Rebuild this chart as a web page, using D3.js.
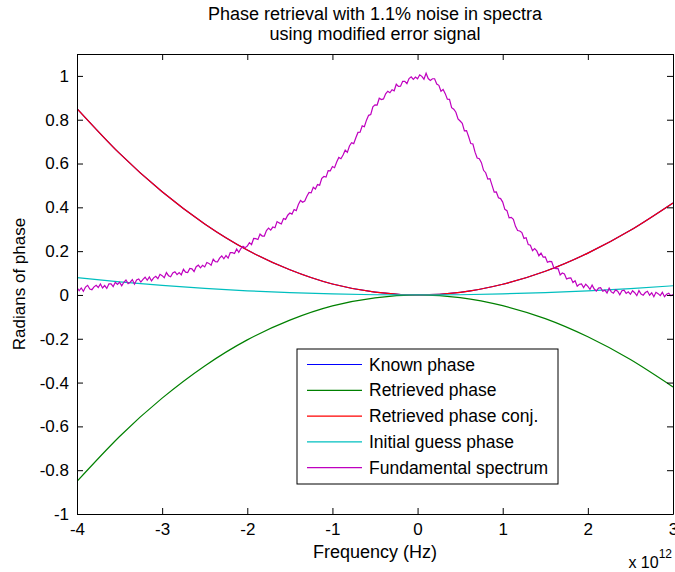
<!DOCTYPE html>
<html>
<head>
<meta charset="utf-8">
<script src="https://cdn.jsdelivr.net/npm/d3@7"></script>
<style>
  body { margin: 0; background: #fff; }
  svg text { font-family: Arial, "Liberation Sans", sans-serif; fill: #000; }
  .axis path, .axis line { stroke: #000; }
  .line { fill: none; stroke-width: 1.2; }
</style>
</head>
<body>
<div id="chart"></div>
<script>
// frequency in units of 1e12 Hz
const phaseFreq = [-4, -3.5, -3, -2.5, -2, -1.5, -1, -0.5, 0, 0.5, 1, 1.5, 2, 2.5, 3];
const knownPhase = [0.851, 0.646, 0.471, 0.324, 0.205, 0.115, 0.050, 0.013, 0, 0.012, 0.049, 0.108, 0.191, 0.295, 0.420];
const retrievedPhase = [-0.851, -0.646, -0.471, -0.324, -0.205, -0.115, -0.050, -0.013, 0, -0.012, -0.049, -0.108, -0.191, -0.295, -0.420];
const retrievedPhaseConj = [0.851, 0.646, 0.471, 0.324, 0.205, 0.115, 0.050, 0.013, 0, 0.012, 0.049, 0.108, 0.191, 0.295, 0.420];
const initialGuess = [0.079, 0.060, 0.044, 0.030, 0.019, 0.011, 0.005, 0.001, 0, 0.001, 0.005, 0.011, 0.019, 0.029, 0.042];

// fundamental spectrum, sampled every 0.025e12 Hz from -4e12
const spectrumStart = -4;
const spectrumStep = 0.025;
const spectrum = [
  0.034, 0.019, 0.032, 0.017, 0.036, 0.044, 0.027, 0.024, 0.037, 0.044,
  0.034, 0.050, 0.032, 0.043, 0.030, 0.051, 0.051, 0.038, 0.058, 0.048,
  0.058, 0.042, 0.058, 0.068, 0.052, 0.058, 0.070, 0.049, 0.068, 0.073,
  0.059, 0.071, 0.081, 0.067, 0.082, 0.064, 0.078, 0.085, 0.074, 0.094,
  0.088, 0.079, 0.102, 0.088, 0.083, 0.100, 0.106, 0.093, 0.102, 0.092,
  0.117, 0.104, 0.102, 0.121, 0.119, 0.107, 0.129, 0.136, 0.124, 0.135,
  0.128, 0.148, 0.144, 0.136, 0.163, 0.152, 0.151, 0.168, 0.178, 0.165,
  0.180, 0.168, 0.193, 0.193, 0.189, 0.210, 0.195, 0.212, 0.222, 0.216,
  0.223, 0.239, 0.230, 0.258, 0.257, 0.253, 0.278, 0.269, 0.269, 0.294,
  0.305, 0.296, 0.310, 0.307, 0.335, 0.329, 0.324, 0.349, 0.345, 0.364,
  0.374, 0.369, 0.390, 0.385, 0.413, 0.431, 0.423, 0.429, 0.451, 0.468,
  0.466, 0.492, 0.484, 0.504, 0.501, 0.532, 0.541, 0.538, 0.568, 0.567,
  0.586, 0.581, 0.607, 0.628, 0.622, 0.639, 0.661, 0.651, 0.680, 0.695,
  0.691, 0.718, 0.742, 0.743, 0.772, 0.768, 0.798, 0.820, 0.824, 0.859,
  0.868, 0.867, 0.898, 0.892, 0.895, 0.918, 0.930, 0.923, 0.937, 0.932,
  0.962, 0.952, 0.953, 0.975, 0.975, 0.965, 0.988, 0.996, 0.984, 0.995,
  0.987, 1.005, 0.998, 0.985, 1.012, 0.988, 0.979, 0.987, 0.987, 0.963,
  0.957, 0.930, 0.938, 0.919, 0.894, 0.893, 0.855, 0.848, 0.834, 0.804,
  0.794, 0.784, 0.749, 0.750, 0.722, 0.691, 0.689, 0.652, 0.625, 0.622,
  0.604, 0.569, 0.558, 0.529, 0.531, 0.500, 0.469, 0.470, 0.444, 0.440,
  0.424, 0.391, 0.385, 0.352, 0.354, 0.345, 0.313, 0.294, 0.292, 0.285,
  0.258, 0.261, 0.230, 0.227, 0.202, 0.212, 0.201, 0.179, 0.191, 0.173,
  0.174, 0.149, 0.153, 0.152, 0.124, 0.120, 0.121, 0.091, 0.100, 0.096,
  0.073, 0.077, 0.078, 0.057, 0.065, 0.040, 0.049, 0.050, 0.034, 0.049,
  0.039, 0.026, 0.045, 0.027, 0.018, 0.031, 0.033, 0.017, 0.022, 0.009,
  0.031, 0.014, 0.008, 0.023, 0.017, 0.001, 0.019, 0.022, 0.007, 0.014,
  0.003, 0.019, 0.010, -0.003, 0.020, 0.004, -0.001, 0.011, 0.017, -0.001,
  0.010, -0.008, 0.012, 0.006, -0.003, 0.012, -0.008, 0.003, 0.008, -0.004,
  0.002
];

const xTicks = [-4, -3, -2, -1, 0, 1, 2, 3];
const yTicks = [-1, -0.8, -0.6, -0.4, -0.2, 0, 0.2, 0.4, 0.6, 0.8, 1];
const legendLabels = ['Known phase', 'Retrieved phase', 'Retrieved phase conj.', 'Initial guess phase', 'Fundamental spectrum'];
const seriesColors = ['#0000ff', '#008000', '#ff0000', '#00bfbf', '#bf00bf'];

const width = 675, height = 572;
const margin = { top: 54, right: 2, bottom: 58, left: 77 };
const w = width - margin.left - margin.right;
const h = height - margin.top - margin.bottom;
const fontSize = 18;

const svg = d3.select('#chart').append('svg')
  .attr('width', width)
  .attr('height', height);

const g = svg.append('g')
  .attr('transform', `translate(${margin.left},${margin.top})`);

const x = d3.scaleLinear().domain([-4, 3]).range([0, w]);
const y = d3.scaleLinear().domain([-1, 1.1]).range([h, 0]);

// series: phases on a coarse grid, spectrum on the fine grid
const phaseSeries = [knownPhase, retrievedPhase, retrievedPhaseConj, initialGuess].map(vals =>
  vals.map((v, i) => [phaseFreq[i], v]));
const spectrumSeries = spectrum.map((v, i) => [spectrumStart + i * spectrumStep, v]);

const smooth = d3.line()
  .x(d => x(d[0]))
  .y(d => y(d[1]))
  .curve(d3.curveNatural);

const jagged = d3.line()
  .x(d => x(d[0]))
  .y(d => y(d[1]));

g.append('defs').append('clipPath').attr('id', 'clip')
  .append('rect').attr('width', w).attr('height', h);

const plot = g.append('g').attr('clip-path', 'url(#clip)');

phaseSeries.forEach((s, i) => {
  plot.append('path')
    .attr('class', 'line')
    .attr('stroke', seriesColors[i])
    .attr('d', smooth(s));
});

plot.append('path')
  .attr('class', 'line')
  .attr('stroke', seriesColors[4])
  .attr('d', jagged(spectrumSeries));

// axes, ticks pointing inwards on all four sides
g.append('g')
  .attr('class', 'axis')
  .attr('transform', `translate(0,${h})`)
  .call(d3.axisBottom(x).tickValues(xTicks).tickSizeInner(-6).tickSizeOuter(0).tickPadding(9)
    .tickFormat(d => String(d)));

g.append('g')
  .attr('class', 'axis')
  .call(d3.axisTop(x).tickValues(xTicks).tickSizeInner(-6).tickSizeOuter(0).tickFormat(''));

g.append('g')
  .attr('class', 'axis')
  .call(d3.axisLeft(y).tickValues(yTicks).tickSizeInner(-6).tickSizeOuter(0).tickPadding(8)
    .tickFormat(d => String(d)));

g.append('g')
  .attr('class', 'axis')
  .attr('transform', `translate(${w},0)`)
  .call(d3.axisRight(y).tickValues(yTicks).tickSizeInner(-6).tickSizeOuter(0).tickFormat(''));

g.selectAll('.axis text').attr('font-size', 17).attr('fill', '#000');
g.selectAll('.axis .domain').attr('stroke-width', 1);

// titles and labels
svg.append('text')
  .attr('x', margin.left + w / 2).attr('y', 20)
  .attr('text-anchor', 'middle').attr('font-size', fontSize)
  .text('Phase retrieval with 1.1% noise in spectra');

svg.append('text')
  .attr('x', margin.left + w / 2).attr('y', 40)
  .attr('text-anchor', 'middle').attr('font-size', fontSize)
  .text('using modified error signal');

svg.append('text')
  .attr('x', margin.left + w / 2).attr('y', 558)
  .attr('text-anchor', 'middle').attr('font-size', fontSize)
  .text('Frequency (Hz)');

svg.append('text')
  .attr('transform', `translate(25,${margin.top + h / 2}) rotate(-90)`)
  .attr('text-anchor', 'middle').attr('font-size', 17)
  .text('Radians of phase');

const mult = svg.append('text')
  .attr('x', 672).attr('y', 568)
  .attr('text-anchor', 'end').attr('font-size', 16);
mult.append('tspan').text('x 10');
mult.append('tspan').attr('dy', -10).attr('font-size', 12).text('12');

// legend
const legend = g.append('g').attr('transform', `translate(${297 - margin.left},${349 - margin.top})`);
legend.append('rect')
  .attr('width', 261).attr('height', 135)
  .attr('fill', '#fff').attr('stroke', '#000');

legendLabels.forEach((label, i) => {
  const ly = 15.5 + i * 25.8;
  legend.append('line')
    .attr('x1', 10).attr('x2', 65)
    .attr('y1', ly).attr('y2', ly)
    .attr('stroke', seriesColors[i]).attr('stroke-width', 1.2);
  legend.append('text')
    .attr('x', 72).attr('y', ly + 6)
    .attr('font-size', 17.5)
    .text(label);
});
</script>
</body>
</html>
